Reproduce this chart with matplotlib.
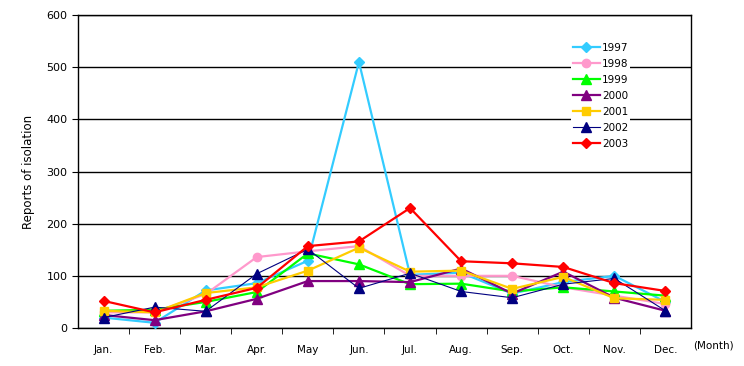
"""Monthly reports of isolation, 1997-2003."""

import matplotlib
matplotlib.use("Agg")
import matplotlib.pyplot as plt
import numpy as np

months = ["Jan.", "Feb.", "Mar.", "Apr.", "May", "Jun.",
          "Jul.", "Aug.", "Sep.", "Oct.", "Nov.", "Dec."]

y1997 = [20, 10, 72, 86, 129, 510, 102, 106, 66, 88, 100, 50]
y1998 = [30, 30, 65, 136, 147, 157, 100, 100, 100, 78, 62, 46]
y1999 = [33, 35, 50, 69, 143, 122, 84, 85, 70, 78, 70, 62]
y2000 = [25, 15, 32, 56, 90, 90, 88, 114, 66, 108, 58, 33]
y2001 = [33, 30, 67, 78, 110, 154, 108, 110, 75, 98, 57, 54]
y2002 = [20, 40, 32, 104, 151, 76, 105, 70, 58, 84, 95, 33]
y2003 = [52, 30, 54, 77, 157, 166, 230, 128, 124, 117, 86, 71]

series = [
    ("1997", y1997, "#33CCFF", "D", 1.6, 5),
    ("1998", y1998, "#FF99CC", "o", 1.6, 6),
    ("1999", y1999, "#00FF00", "^", 1.6, 6.5),
    ("2000", y2000, "#800080", "^", 1.6, 6.5),
    ("2001", y2001, "#FFCC00", "s", 1.6, 6),
    ("2002", y2002, "#000080", "^", 0.8, 6.5),
    ("2003", y2003, "#FF0000", "D", 1.6, 5.5),
]

fig = plt.figure(figsize=(7.44, 3.66), dpi=100)
ax = fig.add_axes([0.1048, 0.1038, 0.8240, 0.8552])

x = np.arange(1, len(months) + 1)
for name, vals, color, marker, lw, ms in series:
    ax.plot(x, vals, color=color, marker=marker, lw=lw, ms=ms,
            markeredgecolor=color, label=name, zorder=3)

ax.set_xlim(0.5, 12.5)
ax.set_ylim(0, 600)
ax.set_yticks(range(0, 601, 100))
ax.yaxis.grid(True, color="black", lw=1)
ax.set_axisbelow(True)

ax.set_xticks(x)
ax.set_xticklabels(months, fontsize=7.5)
ax.set_xticks(np.arange(1.5, 12.5, 1), minor=True)
ax.tick_params(axis="x", which="major", length=0, pad=12)
ax.tick_params(axis="x", which="minor", length=4, direction="out")
ax.tick_params(axis="y", length=4, labelsize=8)

for sp in ax.spines.values():
    sp.set_color("black")
    sp.set_linewidth(1)

ax.set_ylabel("Reports of isolation", fontsize=8.5, labelpad=8)
fig.text(0.932, 0.055, "(Month)", fontsize=7.5, ha="left", va="center")

leg = ax.legend(loc="upper left", bbox_to_anchor=(0.795, 0.935), frameon=True,
                fontsize=7.5, handlelength=2.6, labelspacing=0.58,
                borderpad=0.2, handletextpad=0.2)
leg.get_frame().set_edgecolor("none")
leg.get_frame().set_facecolor("white")
leg.get_frame().set_alpha(1)
leg.get_frame().set_boxstyle("square", pad=0)

fig.savefig("out.png", dpi=100)
